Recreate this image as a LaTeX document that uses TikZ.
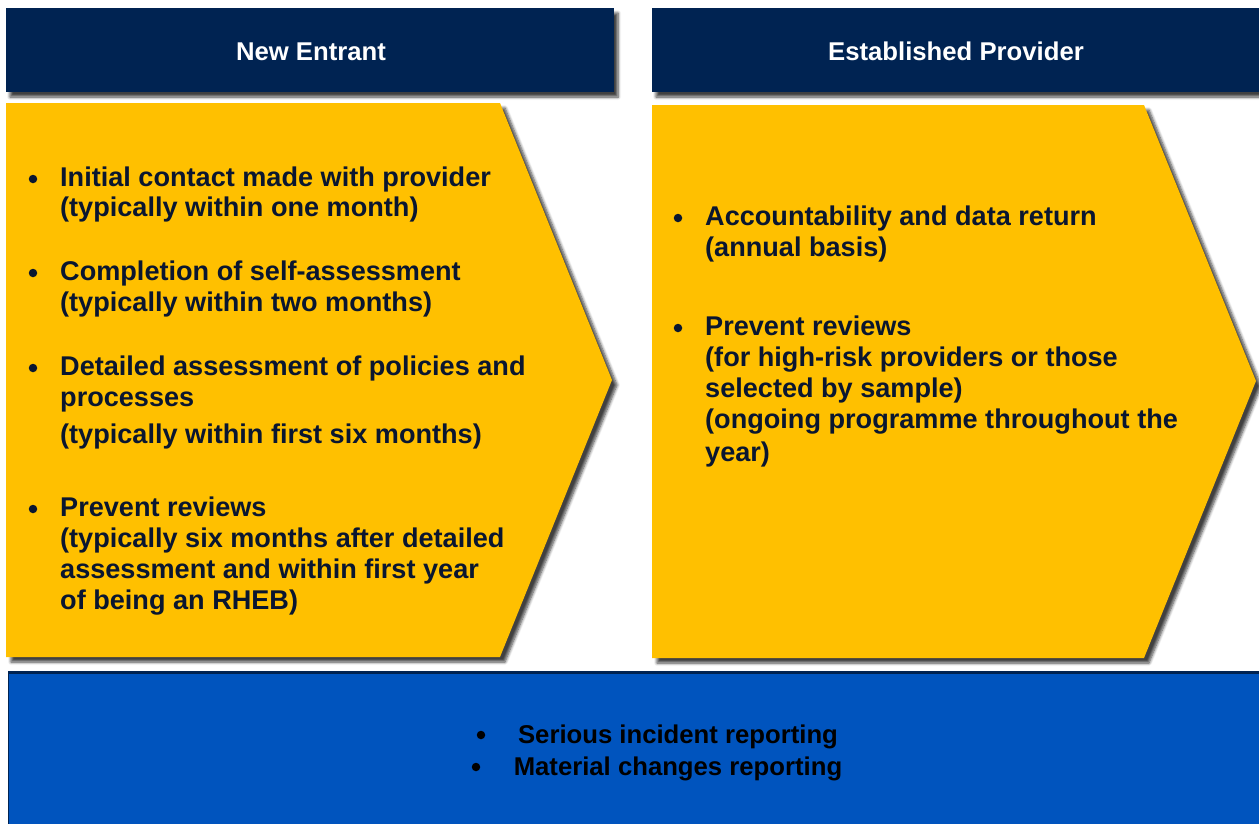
\documentclass[tikz,border=0pt]{standalone}
\usepackage{fontspec}
\setmainfont{Liberation Sans}
\usetikzlibrary{shadows.blur}
\definecolor{navy}{RGB}{0,35,82}
\definecolor{gold}{RGB}{255,192,0}
\definecolor{royal}{RGB}{0,84,190}
\definecolor{ink}{RGB}{10,22,48}
\tikzset{
  hdr/.style={fill=navy, draw=none, blur shadow={shadow xshift=4pt, shadow yshift=-5pt, shadow blur steps=6, shadow blur radius=3pt, shadow opacity=75}},
  chev/.style={fill=gold, draw=none, blur shadow={shadow xshift=5pt, shadow yshift=-5pt, shadow blur steps=6, shadow blur radius=3pt, shadow opacity=75}},
  htxt/.style={text=white, font=\fontsize{25.7}{30}\selectfont\bfseries, inner sep=0pt, anchor=base},
  txt/.style={text=ink, font=\fontsize{27.1}{31}\selectfont\bfseries, inner sep=0pt, anchor=base west},
  btxt/.style={text=black, font=\fontsize{25.7}{31}\selectfont\bfseries, inner sep=0pt, anchor=base},
  dot/.style={circle, fill=ink, inner sep=0pt, minimum size=8.5pt},
  bdot/.style={circle, fill=black, inner sep=0pt, minimum size=8.5pt},
}
\begin{document}
\begin{tikzpicture}[x=1pt,y=-1pt]
\useasboundingbox (0,0) rectangle (1259,823);
% headers
\path[hdr] (6,8) rectangle (614,92);
\path[hdr] (652,8) rectangle (1270,92);
\node[htxt] (h1) at (311,60) {New Entrant};
\node[htxt] (h2) at (956,60) {Established Provider};
% chevrons
\path[chev] (6,103) -- (500,103) -- (612,380) -- (500,657) -- (6,657) -- cycle;
\path[chev] (652,105) -- (1144,105) -- (1256,381) -- (1144,658) -- (652,658) -- cycle;
% bottom box
\fill[royal] (8,671) rectangle (1270,830);
\draw[navy, line width=3pt] (8,672) -- (1270,672);
\draw[navy, line width=1pt] (8.5,671) -- (8.5,830);
% left items
\node[dot] (b1) at (33,179) {};
\node[txt] (l1a) at (60,186) {Initial contact made with provider};
\node[txt] (l1b) at (60,216) {(typically within one month)};
\node[dot] (b2) at (33,273) {};
\node[txt] (l2a) at (60,280) {Completion of self-assessment};
\node[txt] (l2b) at (60,311) {(typically within two months)};
\node[dot] (b3) at (33,368) {};
\node[txt] (l3a) at (60,375) {Detailed assessment of policies and};
\node[txt] (l3b) at (60,406) {processes};
\node[txt] (l3c) at (60,443) {(typically within first six months)};
\node[dot] (b4) at (33,509) {};
\node[txt] (l4a) at (60,516) {Prevent reviews};
\node[txt] (l4b) at (60,547) {(typically six months after detailed};
\node[txt] (l4c) at (60,578) {assessment and within first year};
\node[txt] (l4d) at (60,609) {of being an RHEB)};
% right items
\node[dot] (b5) at (678,218) {};
\node[txt] (r1a) at (705,225) {Accountability and data return};
\node[txt] (r1b) at (705,256) {(annual basis)};
\node[dot] (b6) at (678,328) {};
\node[txt] (r2a) at (705,335) {Prevent reviews};
\node[txt] (r2b) at (705,366) {(for high-risk providers or those};
\node[txt] (r2c) at (705,397) {selected by sample)};
\node[txt] (r2d) at (705,428) {(ongoing programme throughout the};
\node[txt] (r2e) at (705,461) {year)};
% bottom items
\node[bdot] (b7) at (481,735) {};
\node[btxt] (s1) at (678,743) {Serious incident reporting};
\node[bdot] (b8) at (476,767) {};
\node[btxt] (s2) at (678,775) {Material changes reporting};
\end{tikzpicture}
\end{document}
